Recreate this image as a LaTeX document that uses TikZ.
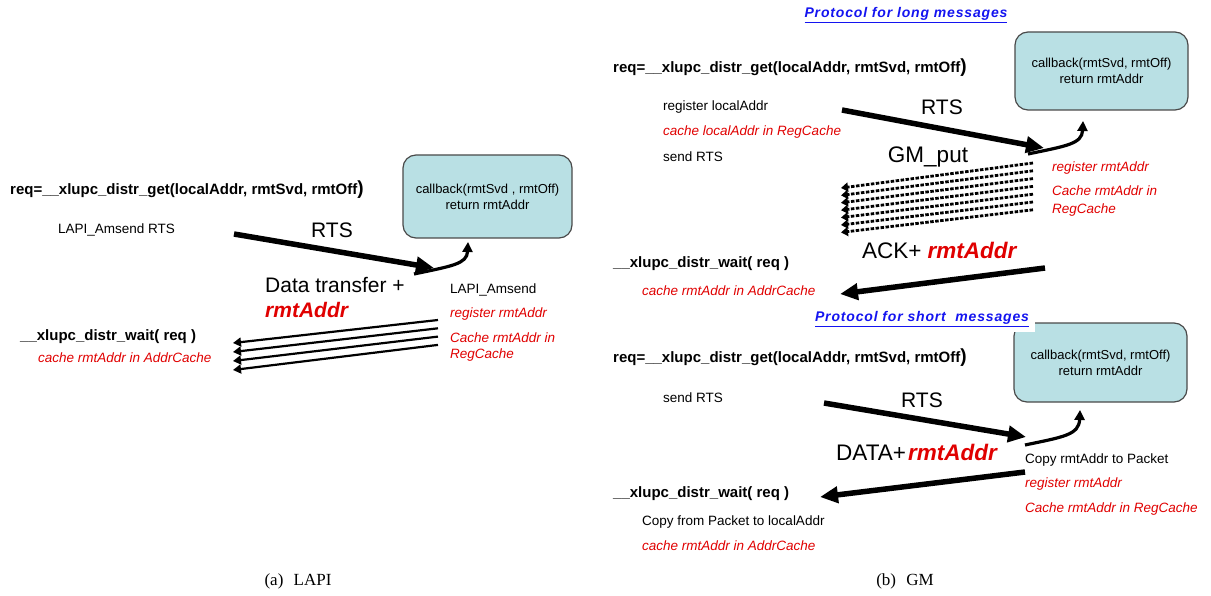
\documentclass[tikz,border=0pt]{standalone}
\usepackage{fontspec}
\setmainfont{Liberation Sans}
\newfontfamily\capfont{Liberation Serif}
\usepackage{tikz}
\usetikzlibrary{arrows.meta,positioning}
\definecolor{boxteal}{HTML}{B9E0E4}
\definecolor{boxedge}{HTML}{4A4A4A}
\definecolor{notered}{HTML}{E00000}
\definecolor{titleblue}{HTML}{1414F0}

\begin{document}
\begin{tikzpicture}[x=1pt,y=-1pt]
\tikzstyle{every node}+=[inner sep=0pt]
\tikzstyle{plain}=[anchor=base west,font=\fontsize{13.5}{16}\selectfont]
\tikzstyle{note}=[anchor=base west,text=notered,font=\fontsize{13.5}{16}\selectfont\itshape]
\tikzstyle{code}=[anchor=base west,font=\fontsize{15}{18}\selectfont\bfseries]
\tikzstyle{big}=[anchor=base west,font=\fontsize{21}{24}\selectfont]
\tikzstyle{bigger}=[anchor=base west,font=\fontsize{22.5}{26}\selectfont]
\tikzstyle{bigred}=[anchor=base west,text=notered,font=\fontsize{21}{24}\selectfont\bfseries\itshape]
\tikzstyle{cbbox}=[draw=boxedge,line width=1.2pt,fill=boxteal,rounded corners=13pt,align=center,font=\fontsize{13}{16}\selectfont]
\tikzstyle{title}=[anchor=base,text=titleblue,font=\fontsize{14}{16}\selectfont\bfseries\itshape\addfontfeature{LetterSpace=6}]
\tikzstyle{caption}=[anchor=base,font=\fontsize{17}{19}\selectfont\capfont]
\tikzstyle{fatarrow}=[line width=5.5pt,-{Triangle[length=18pt,width=16pt]}]
\tikzstyle{slimarrow}=[line width=2.2pt,-{Triangle[length=8pt,width=9pt]}]
\tikzstyle{curlarrow}=[line width=3.2pt,-{Triangle[length=10pt,width=10pt]}]
\tikzstyle{putarrow}=[line width=2.8pt,dash pattern=on 3.5pt off 1.5pt,-{Triangle[length=7pt,width=9pt]}]
\useasboundingbox (0,0) rectangle (1211,596);

% (a) LAPI
\node[cbbox,minimum width=169pt,minimum height=83pt] (cbA) at (487.5,196.5) {callback(rmtSvd , rmtOff)\\return rmtAddr};
\node[code] (getA) at (10,195) {req=\_\_xlupc\_distr\_get(localAddr, rmtSvd, rmtOff{\fontsize{19}{19}\selectfont)}};
\node[plain] (sendA) at (58,234) {LAPI\_Amsend RTS};
\node[big,anchor=base] (rtsA) at (332,238) {RTS};
\node[big] (dataA) at (265,293) {Data transfer +};
\node[bigred] (addrA) at (265,317) {rmtAddr};
\node[plain] (amA) at (450,294) {LAPI\_Amsend};
\node[note] (regA) at (450,317) {register rmtAddr};
\node[note] (cacheA) at (450,342) {Cache rmtAddr in};
\node[note] (cacheAb) at (450,358) {RegCache};
\node[code] (waitA) at (20,340) {\_\_xlupc\_distr\_wait( req )};
\node[note] (addrcA) at (38,362) {cache rmtAddr in AddrCache};

\coordinate (rtsAs) at (234,234);
\coordinate (rtsAe) at (434,268);
\draw[fatarrow] (rtsAs) -- (rtsAe);
\coordinate (curlAs) at (414,274);
\coordinate (curlAe) at (468,242);
\draw[curlarrow] (curlAs) .. controls (452,266) and (467,264) .. (curlAe);
\foreach \k in {0,...,3}{
  \coordinate (backAs\k) at (438,320+8.3*\k);
  \coordinate (backAe\k) at (233,343+9*\k);
  \draw[slimarrow] (backAs\k) -- (backAe\k);
}

% (b) GM, long messages
\node[title] (longB) at (906,18) {\underline{Protocol for long messages}};
\node[cbbox,minimum width=173pt,minimum height=78pt] (cbB) at (1101.5,71) {callback(rmtSvd, rmtOff)\\return rmtAddr};
\node[code] (getB) at (613,73) {req=\_\_xlupc\_distr\_get(localAddr, rmtSvd, rmtOff{\fontsize{19}{19}\selectfont)}};
\node[plain] (regB) at (663,111) {register localAddr};
\node[note] (rcB) at (663,136) {cache localAddr in RegCache};
\node[plain] (sendB) at (663,162) {send RTS};
\node[big,anchor=base] (rtsB) at (942,115) {RTS};
\node[bigger,anchor=base] (putB) at (928,163) {GM\_put};
\node[note] (rmtB) at (1052,172) {register rmtAddr};
\node[note] (cacheB) at (1052,196) {Cache rmtAddr in};
\node[note] (cacheBb) at (1052,214) {RegCache};
\node[bigger] (ackB) at (862,259) {ACK+\hspace{6pt}\textcolor{notered}{\bfseries\itshape rmtAddr}};
\node[code] (waitB) at (613,268) {\_\_xlupc\_distr\_wait( req )};
\node[note] (addrcB) at (642,296) {cache rmtAddr in AddrCache};

\coordinate (rtsBs) at (842,110);
\coordinate (rtsBe) at (1044,148);
\draw[fatarrow] (rtsBs) -- (rtsBe);
\coordinate (curlBs) at (1028,154);
\coordinate (curlBe) at (1083,121);
\draw[curlarrow] (curlBs) .. controls (1066,146) and (1082,144) .. (curlBe);
\foreach \k in {0,...,6}{
  \coordinate (putBs\k) at (1033,163+7.8*\k);
  \coordinate (putBe\k) at (841,188+7.4*\k);
  \draw[putarrow] (putBs\k) -- (putBe\k);
}
\coordinate (ackBs) at (1045,268);
\coordinate (ackBe) at (840,294);
\draw[fatarrow] (ackBs) -- (ackBe);

% (b) GM, short messages
\node[cbbox,minimum width=173pt,minimum height=79pt] (cbC) at (1100.5,362.5) {callback(rmtSvd, rmtOff)\\return rmtAddr};
\fill[white] (808,305) rectangle (1035,332);
\node[title] (shortC) at (922,322) {\underline{Protocol for short\ \ messages}};
\node[code] (getC) at (613,362) {req=\_\_xlupc\_distr\_get(localAddr, rmtSvd, rmtOff{\fontsize{19}{19}\selectfont)}};
\node[plain] (sendC) at (663,402) {send RTS};
\node[big,anchor=base] (rtsC) at (922,407) {RTS};
\node[bigger] (dataC) at (836,460) {DATA+\hspace{2pt}\textcolor{notered}{\bfseries\itshape rmtAddr}};
\node[plain] (copyC) at (1025,463) {Copy rmtAddr to Packet};
\node[note] (regC) at (1025,487) {register rmtAddr};
\node[note] (cacheC) at (1025,512) {Cache rmtAddr in RegCache};
\node[code] (waitC) at (613,497) {\_\_xlupc\_distr\_wait( req )};
\node[plain] (copybC) at (642,525) {Copy from Packet to localAddr};
\node[note] (addrcC) at (642,550) {cache rmtAddr in AddrCache};

\coordinate (rtsCs) at (824,403);
\coordinate (rtsCe) at (1026,437);
\draw[fatarrow] (rtsCs) -- (rtsCe);
\coordinate (curlCs) at (1025,445);
\coordinate (curlCe) at (1080,410);
\draw[curlarrow] (curlCs) .. controls (1063,437) and (1079,435) .. (curlCe);
\coordinate (dataCs) at (1025,472);
\coordinate (dataCe) at (820,497);
\draw[fatarrow] (dataCs) -- (dataCe);

% captions
\node[caption] (capA) at (298,585) {(a)\hspace{0.6em}LAPI};
\node[caption] (capB) at (905,585) {(b)\hspace{0.6em}GM};
\end{tikzpicture}
\end{document}
